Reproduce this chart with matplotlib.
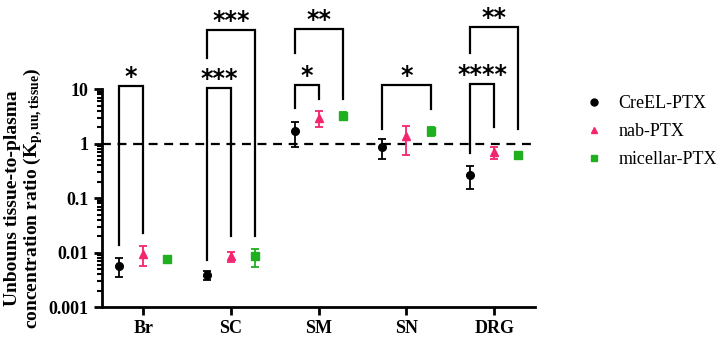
import matplotlib
matplotlib.use("Agg")
import matplotlib.pyplot as plt
import numpy as np
from matplotlib.lines import Line2D
from matplotlib.ticker import LogLocator, FixedLocator, FixedFormatter, NullFormatter

plt.rcParams["font.family"] = ["Liberation Serif", "DejaVu Serif"]
plt.rcParams["mathtext.fontset"] = "custom"
plt.rcParams["mathtext.rm"] = "Liberation Serif:bold"
plt.rcParams["mathtext.it"] = "Liberation Serif:bold"
plt.rcParams["mathtext.bf"] = "Liberation Serif:bold"
plt.rcParams["mathtext.default"] = "rm"

# tissues on the x axis
tissues = ["Br", "SC", "SM", "SN", "DRG"]
groups = ["CreEL-PTX", "nab-PTX", "micellar-PTX"]

# mean and SD (Kp,uu,tissue)
creel_mean = [0.0057, 0.0039, 1.70, 0.88, 0.27]
creel_sd = [0.0022, 0.0008, 0.82, 0.35, 0.12]
nab_mean = [0.0096, 0.0085, 2.97, 1.38, 0.69]
nab_sd = [0.0038, 0.0017, 0.93, 0.77, 0.17]
mic_mean = [0.0077, 0.0087, 3.28, 1.70, 0.61]
mic_sd = [0.0007, 0.0032, 0.60, 0.33, 0.09]

# significance brackets: tissue, group a, group b, left leg end, right leg end, top, label
brackets = [
    (0, 0, 1, 0.0138, 0.023, 11.5, "*"),
    (1, 0, 1, 0.0074, 0.020, 10.4, "***"),
    (1, 0, 2, 36.6, 0.020, 120, "***"),
    (2, 0, 1, 4.5, 6.7, 11.7, "*"),
    (2, 0, 2, 46, 6.7, 125, "**"),
    (3, 0, 2, 1.83, 4.3, 11.7, "*"),
    (4, 0, 1, 0.66, 2.0, 12.3, "****"),
    (4, 0, 2, 46, 1.83, 138, "**"),
]

colors = ["black", "#F5246E", "#1FAF1F"]
markers = ["o", "^", "s"]
offset = [-0.275, 0.0, 0.275]

fig = plt.figure(figsize=(7.26, 3.39), dpi=100)
ax = fig.add_axes([0.1405, 0.094, 0.597, 0.643])

x = np.arange(len(tissues))
series = [(creel_mean, creel_sd), (nab_mean, nab_sd), (mic_mean, mic_sd)]
for k, (m, s) in enumerate(series):
    ax.errorbar(x + offset[k], m, yerr=s, fmt=markers[k], color=colors[k],
                ecolor=colors[k], markersize=5.5, capsize=3, elinewidth=1.3,
                capthick=1.3, zorder=3)

ax.axhline(1, color="black", lw=1.6, ls=(0, (4, 3)), zorder=1)

for t, a, b, ya, yb, top, lab in brackets:
    xa = t + offset[a]
    xb = t + offset[b]
    ax.plot([xa, xa, xb, xb], [ya, top, top, yb], color="black", lw=1.6,
            clip_on=False, solid_joinstyle="miter")
    ax.annotate(lab, ((xa + xb) / 2, top), xytext=(0, 1.5),
                textcoords="offset points", ha="center", va="baseline",
                fontsize=17, fontweight="bold", family="DejaVu Sans",
                annotation_clip=False)

ax.set_yscale("log")
ax.set_ylim(0.001, 10)
ax.set_xlim(-0.47, 4.47)
ax.yaxis.set_major_locator(FixedLocator([0.001, 0.01, 0.1, 1, 10]))
ax.yaxis.set_major_formatter(FixedFormatter(["0.001", "0.01", "0.1", "1", "10"]))
ax.yaxis.set_minor_locator(LogLocator(base=10, subs=np.arange(2, 10)))
ax.yaxis.set_minor_formatter(NullFormatter())
ax.set_xticks(x)
ax.set_xticklabels(tissues)

for side in ["top", "right"]:
    ax.spines[side].set_visible(False)
for side in ["left", "bottom"]:
    ax.spines[side].set_linewidth(2)

ax.tick_params(axis="both", which="major", length=6, width=2, labelsize=13)
ax.tick_params(axis="y", which="minor", length=3.5, width=1.5)
for lbl in ax.get_xticklabels() + ax.get_yticklabels():
    lbl.set_fontweight("bold")

ax.set_ylabel("Unbouns tissue-to-plasma\nconcentration ratio (K$_{p,uu,tissue}$)",
              fontsize=14, fontweight="bold", labelpad=3, linespacing=1.0)

handles = [Line2D([], [], ls="none", marker=markers[k], color=colors[k],
                  markersize=5) for k in range(3)]
fig.legend(handles, groups, loc="center left", bbox_to_anchor=(0.786, 0.612),
           frameon=False, fontsize=13, handletextpad=0.95, labelspacing=0.62,
           handlelength=0.8)

fig.savefig("out.png", dpi=100)
